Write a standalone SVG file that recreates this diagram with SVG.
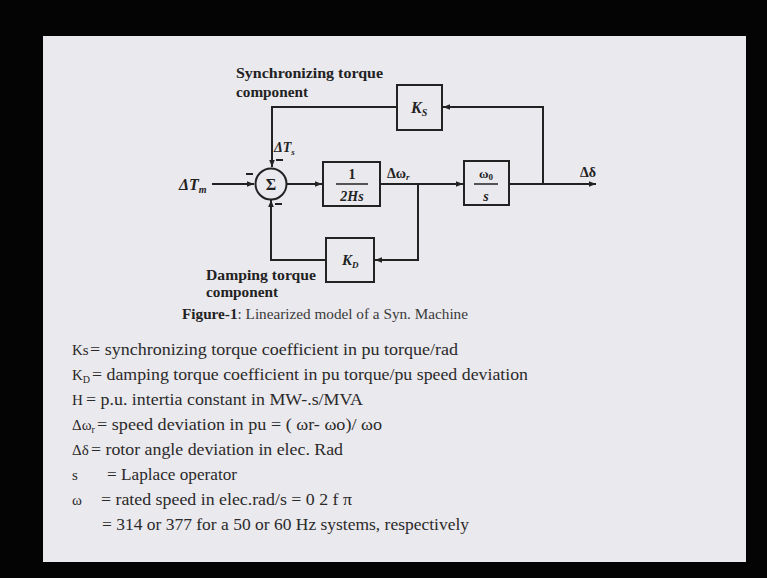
<svg xmlns="http://www.w3.org/2000/svg" width="767" height="578" viewBox="0 0 767 578">
<defs>
<marker id="ah" viewBox="0 0 10 10" refX="10" refY="5" markerWidth="7" markerHeight="7" markerUnits="userSpaceOnUse" orient="auto">
<path d="M0,1 L10,5 L0,9 Z" fill="#222"/>
</marker>
<style>
.wire{fill:none;stroke:#222;stroke-width:2}
.box{fill:none;stroke:#222;stroke-width:2}
.lbl{font-family:"Liberation Serif","DejaVu Serif",serif;font-weight:bold;fill:#222}
.math{font-family:"Liberation Serif","DejaVu Serif",serif;font-weight:bold;font-style:italic;fill:#222}
.body{font-family:"Liberation Serif","Times New Roman",serif;font-size:16.5px;fill:#2a2a2a}
.pre{font-family:"Liberation Serif","Times New Roman",serif;font-size:15px;fill:#2a2a2a}
.sign{stroke:#222;stroke-width:2}
</style>
</defs>
<rect x="0" y="0" width="767" height="578" fill="#040404"/>
<rect x="43" y="36" width="703" height="526" fill="#eae9ee"/>

<g id="connectors">
<path class="wire" d="M212,184 H254" marker-end="url(#ah)"/>
<path class="wire" d="M286,184 H322" marker-end="url(#ah)"/>
<path class="wire" d="M380,184 H463" marker-end="url(#ah)"/>
<path class="wire" d="M509,184 H596" marker-end="url(#ah)"/>
<path class="wire" d="M543,184 V107 H443" marker-end="url(#ah)"/>
<path class="wire" d="M397,107 H272 V167" marker-end="url(#ah)"/>
<path class="wire" d="M418,184 V260 H375" marker-end="url(#ah)"/>
<path class="wire" d="M326,260 H271 V200" marker-end="url(#ah)"/>
</g>

<g id="sum">
<circle cx="271" cy="184" r="15.5" fill="none" stroke="#222" stroke-width="2"/>
<text x="271" y="190" text-anchor="middle" class="lbl" font-size="16">Σ</text>
<line class="sign" x1="246" y1="174" x2="253" y2="174"/>
<line class="sign" x1="276" y1="160" x2="283" y2="160"/>
<line class="sign" x1="275" y1="204" x2="282" y2="204"/>
</g>

<g id="input-label">
<text x="179" y="190" class="math" font-size="16">ΔT<tspan font-size="10" dy="3">m</tspan></text>
</g>
<g id="dts-label">
<text x="274" y="152" class="math" font-size="14">ΔT<tspan font-size="9" dy="3">s</tspan></text>
</g>

<g id="block-2Hs">
<rect class="box" x="323" y="162" width="57" height="44" fill="none"/>
<text x="352" y="179" text-anchor="middle" class="lbl" font-size="14">1</text>
<line x1="336" y1="184" x2="368" y2="184" stroke="#222" stroke-width="1.5"/>
<text x="352" y="201" text-anchor="middle" class="math" font-size="14">2Hs</text>
</g>

<g id="dwr-label">
<text x="387" y="178" class="lbl" font-size="14">Δω<tspan font-size="9" dy="2" font-style="italic">r</tspan></text>
</g>

<g id="block-w0s">
<rect class="box" x="464" y="161" width="45" height="44" fill="none"/>
<text x="486" y="178" text-anchor="middle" class="lbl" font-size="13">ω<tspan font-size="9" dy="2">0</tspan></text>
<line x1="474" y1="184" x2="498" y2="184" stroke="#222" stroke-width="1.5"/>
<text x="486" y="201" text-anchor="middle" class="math" font-size="14">s</text>
</g>

<g id="output-label">
<text x="580" y="177" class="lbl" font-size="14">Δδ</text>
</g>

<g id="block-Ks">
<rect class="box" x="397" y="85" width="45" height="45" fill="none"/>
<text x="411" y="113" class="math" font-size="16">K<tspan font-size="10" dy="3">S</tspan></text>
</g>

<g id="block-KD">
<rect class="box" x="326" y="238" width="48" height="44" fill="none"/>
<text x="342" y="265" class="math" font-size="15">K<tspan font-size="9" dy="3">D</tspan></text>
</g>

<g id="sync-label">
<text x="236" y="78" class="lbl" font-size="14" textLength="147" lengthAdjust="spacingAndGlyphs">Synchronizing torque</text>
<text x="236" y="97" class="lbl" font-size="14" textLength="72" lengthAdjust="spacingAndGlyphs">component</text>
</g>
<g id="damp-label">
<text x="206" y="280" class="lbl" font-size="14" textLength="110" lengthAdjust="spacingAndGlyphs">Damping torque</text>
<text x="206" y="297" class="lbl" font-size="14" textLength="72" lengthAdjust="spacingAndGlyphs">component</text>
</g>

<text x="182" y="319" font-family="Liberation Serif, serif" font-size="14" fill="#3a3a3a" textLength="286" lengthAdjust="spacingAndGlyphs"><tspan font-weight="bold" fill="#222">Figure-1</tspan>: Linearized model of a Syn. Machine</text>

<g id="definitions">
<text class="pre" x="72" y="355">Ks</text>
<text class="body" x="90" y="355" textLength="368" lengthAdjust="spacingAndGlyphs">= synchronizing torque coefficient in pu torque/rad</text>
<text class="pre" x="72" y="380">K<tspan font-size="10" dy="3">D</tspan></text>
<text class="body" x="92" y="380" textLength="436" lengthAdjust="spacingAndGlyphs">= damping torque coefficient in pu torque/pu speed deviation</text>
<text class="pre" x="72" y="405">H</text>
<text class="body" x="86" y="405" textLength="277" lengthAdjust="spacingAndGlyphs">= p.u. intertia constant in MW-.s/MVA</text>
<text class="pre" x="72" y="430">Δω<tspan font-size="10" dy="3">r</tspan></text>
<text class="body" x="97" y="430" textLength="285" lengthAdjust="spacingAndGlyphs">= speed deviation in pu = ( ωr- ωo)/ ωo</text>
<text class="pre" x="72" y="455">Δδ</text>
<text class="body" x="91" y="455" textLength="252" lengthAdjust="spacingAndGlyphs">= rotor angle deviation in elec. Rad</text>
<text class="pre" x="72" y="480">s</text>
<text class="body" x="107" y="480" textLength="130" lengthAdjust="spacingAndGlyphs">= Laplace operator</text>
<text class="pre" x="72" y="505">ω</text>
<text class="body" x="101" y="505" textLength="251" lengthAdjust="spacingAndGlyphs">= rated speed in elec.rad/s =  0 2 f π</text>
<text class="body" x="102" y="530" textLength="367" lengthAdjust="spacingAndGlyphs">= 314 or 377 for a 50 or 60 Hz systems, respectively</text>
</g>
</svg>
